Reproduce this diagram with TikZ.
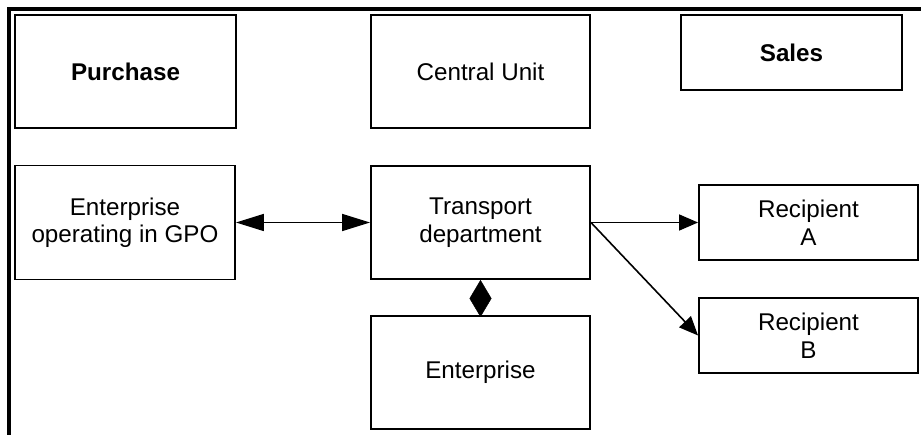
\documentclass[tikz,border=0pt]{standalone}
\usepackage{fontspec}
\setmainfont{Liberation Sans}
\usetikzlibrary{arrows.meta}

\tikzset{
  unit/.style={draw, line width=1.9pt, rectangle, inner sep=0pt,
    align=center, font=\fontsize{24.2}{27.5}\selectfont},
  heading/.style={unit, font=\fontsize{24.2}{27.5}\selectfont\bfseries},
  frameline/.style={line width=4.5pt},
  bigtip/.style={line width=1.6pt, {Triangle[length=28pt,width=17pt]}-{Triangle[length=28pt,width=17pt]}},
  smalltip/.style={line width=1.6pt, -{Triangle[length=19pt,width=16pt]}},
  owns/.style={-{Diamond[length=37pt,width=22pt]}},
}

\begin{document}
\begin{tikzpicture}[x=1pt,y=-1pt]
\useasboundingbox (0,0) rectangle (921,435);

% outer frame (left and top edges)
\draw[frameline] (9,437) -- (9,9) -- (923,9);

% top row
\node[heading, minimum width=221pt, minimum height=113pt] (purchase) at (125.5,71.5) {Purchase};
\node[unit, minimum width=219pt, minimum height=113pt] (central) at (480.5,71.5) {Central Unit};
\node[heading, minimum width=221pt, minimum height=75pt] (sales) at (791.5,52.5) {Sales};

% middle row
\node[unit, minimum width=220pt, minimum height=114pt] (gpo) at (125,222.5) {Enterprise\\operating in GPO};
\node[unit, minimum width=219pt, minimum height=113pt] (transport) at (480.5,222.5) {Transport\\department};
\node[unit, minimum width=219pt, minimum height=75pt] (recA) at (808.5,222.5) {Recipient\\A};

% lower row
\node[unit, minimum width=219pt, minimum height=113pt] (enterprise) at (480.5,372.5) {Enterprise};
\node[unit, minimum width=219pt, minimum height=75pt] (recB) at (808.5,335.5) {Recipient\\B};

% connectors
\draw[bigtip] (gpo.east) -- (transport.west);
\draw[smalltip] (transport.east) -- (recA.west);
\draw[smalltip] (transport.east) -- (recB.west);
\draw[owns] (enterprise.north) -- (transport.south);
\end{tikzpicture}
\end{document}
